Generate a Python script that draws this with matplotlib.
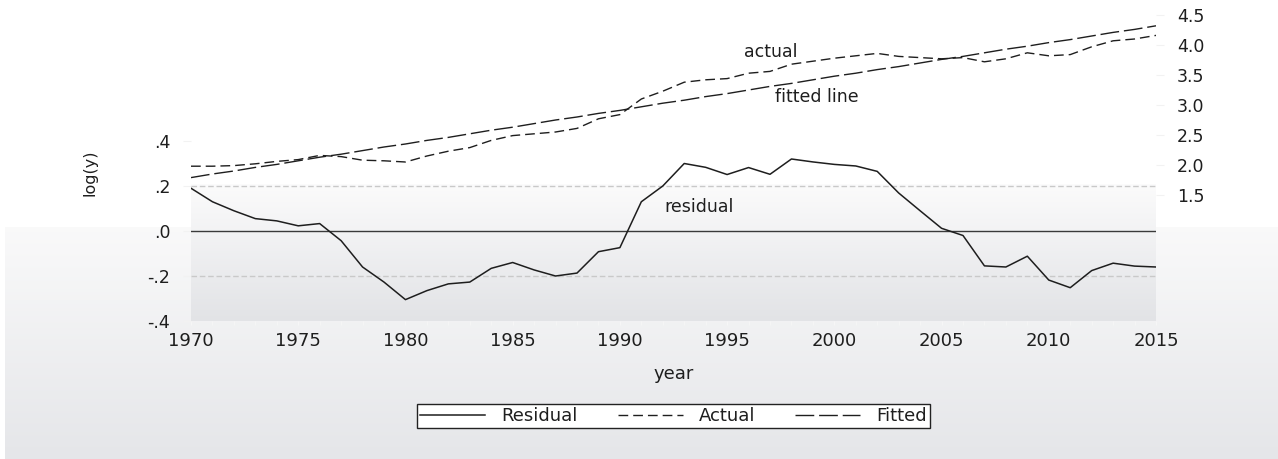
import numpy as np
import matplotlib.pyplot as plt

years = np.arange(1970, 2016)

residual = [0.19, 0.13, 0.09, 0.055, 0.045, 0.023, 0.033, -0.043, -0.16, -0.227,
            -0.305, -0.265, -0.235, -0.227, -0.166, -0.14, -0.173, -0.20, -0.187, -0.092,
            -0.074, 0.13, 0.20, 0.30, 0.283, 0.251, 0.282, 0.252, 0.32, 0.307,
            0.296, 0.289, 0.265, 0.169, 0.09, 0.012, -0.02, -0.155, -0.16, -0.112,
            -0.218, -0.252, -0.176, -0.143, -0.156, -0.16]
actual = [1.98, 1.98, 1.99, 2.02, 2.06, 2.09, 2.16, 2.14, 2.08, 2.07,
          2.05, 2.15, 2.23, 2.29, 2.41, 2.49, 2.52, 2.55, 2.61, 2.77,
          2.84, 3.10, 3.23, 3.38, 3.42, 3.44, 3.53, 3.56, 3.68, 3.73,
          3.78, 3.82, 3.86, 3.81, 3.79, 3.77, 3.79, 3.72, 3.77, 3.87,
          3.82, 3.84, 3.97, 4.07, 4.10, 4.16]
fitted = [1.79, 1.85, 1.90, 1.96, 2.01, 2.07, 2.13, 2.18, 2.24, 2.30,
          2.35, 2.41, 2.46, 2.52, 2.58, 2.63, 2.69, 2.75, 2.80, 2.86,
          2.91, 2.97, 3.03, 3.08, 3.14, 3.19, 3.25, 3.31, 3.36, 3.42,
          3.48, 3.53, 3.59, 3.64, 3.70, 3.76, 3.81, 3.87, 3.93, 3.98,
          4.04, 4.09, 4.15, 4.21, 4.26, 4.32]

x_ticks = [1970, 1975, 1980, 1985, 1990, 1995, 2000, 2005, 2010, 2015]
left_ticks = [-0.4, -0.2, 0.0, 0.2, 0.4]
left_labels = ["-.4", "-.2", ".0", ".2", ".4"]
right_ticks = [1.5, 2.0, 2.5, 3.0, 3.5, 4.0, 4.5]
right_labels = ["1.5", "2.0", "2.5", "3.0", "3.5", "4.0", "4.5"]

W, H = 1278, 459
# plot box in pixels: left, right, top, bottom
PL, PR, PT, PB = 191, 1156, 15, 321
ink = "#1e1e1e"

fig = plt.figure(figsize=(W / 100, H / 100), dpi=100)
fig.patch.set_facecolor("white")

# shaded background: figure panel and plot box, both fading to grey at the bottom
rows = np.arange(H)
t = np.clip((rows - 227) / (H - 1 - 227), 0, 1)
c0 = np.array([0.978, 0.978, 0.980])
c1 = np.array([0.898, 0.902, 0.914])
col = c0 + (c1 - c0) * t[:, None]
col[rows < 227] = 1.0
img = np.repeat(col[:, None, :], W, axis=1)
img[:, :5] = 1.0
prow = np.arange(PT, PB)
tp = np.clip((prow - 184) / (PB - 184), 0, 1)
p0 = np.array([0.985, 0.985, 0.986])
p1 = np.array([0.886, 0.890, 0.902])
pcol = p0 + (p1 - p0) * tp[:, None]
pcol[prow < 184] = 1.0
img[PT:PB, PL:PR] = pcol[:, None, :]

bg = fig.add_axes([0, 0, 1, 1], zorder=0)
bg.imshow(img, extent=(0, W, H, 0), aspect="auto", interpolation="bilinear")
bg.set_axis_off()

ax = fig.add_axes([PL / W, 1 - PB / H, (PR - PL) / W, (PB - PT) / H], zorder=1)
ax.patch.set_alpha(0)
ax2 = ax.twinx()
ax2.patch.set_alpha(0)
for a in (ax, ax2):
    for s in a.spines.values():
        s.set_visible(False)

# residual scale grid
ax.axhline(0.2, color="#c9c9c9", lw=1.0, dashes=(4, 2))
ax.axhline(-0.2, color="#c9c9c9", lw=1.0, dashes=(4, 2))
ax.axhline(0.0, color="#3a3a3a", lw=1.0)

l_res, = ax.plot(years, residual, color=ink, lw=1.1)
l_act, = ax2.plot(years, actual, color=ink, lw=1.0, dashes=(7, 3.6))
l_fit, = ax2.plot(years, fitted, color=ink, lw=1.0, dashes=(13.5, 3.5))

ax.set_xlim(1970, 2015)
ax.set_ylim(-0.4, 0.96)
ax2.set_ylim(-0.6, 4.5)

ax.set_xticks(x_ticks)
ax.set_xticks(years, minor=True)
ax.tick_params(axis="x", which="both", length=3, color="#f6f6f6", pad=5,
               labelsize=13, labelcolor=ink)
ax.set_yticks(left_ticks, labels=left_labels)
ax.tick_params(axis="y", length=6, color="#f2f2f2", pad=9, labelsize=12.5, labelcolor=ink)
ax2.set_yticks(right_ticks, labels=right_labels)
ax2.tick_params(axis="y", length=6, color="#f2f2f2", pad=9, labelsize=12.5, labelcolor=ink)

ax2.text(1997.05, 3.88, "actual", ha="center", va="center", fontsize=12.5, color=ink)
ax2.text(1999.2, 3.13, "fitted line", ha="center", va="center", fontsize=12.5, color=ink)
ax.text(1993.7, 0.107, "residual", ha="center", va="center", fontsize=12.5, color=ink)

fig.text(90 / W, 1 - 173 / H, "log(y)", rotation=90, ha="center", va="center",
         fontsize=11.5, color=ink)
fig.text((PL + PR) / 2 / W, 1 - 374 / H, "year", ha="center", va="center",
         fontsize=13, color=ink)

leg = fig.legend([l_res, l_act, l_fit], ["Residual", "Actual", "Fitted"],
                 loc="center", bbox_to_anchor=((PL + PR) / 2 / W, 1 - 416 / H),
                 ncol=3, fontsize=13, frameon=True, fancybox=False, framealpha=1,
                 facecolor="white", edgecolor="#222222", borderpad=0.15,
                 handlelength=3.6, handletextpad=0.9, columnspacing=2.2,
                 borderaxespad=0)
leg.get_frame().set_linewidth(1.0)
for txt in leg.get_texts():
    txt.set_color(ink)

fig.savefig("out.png", dpi=100)
